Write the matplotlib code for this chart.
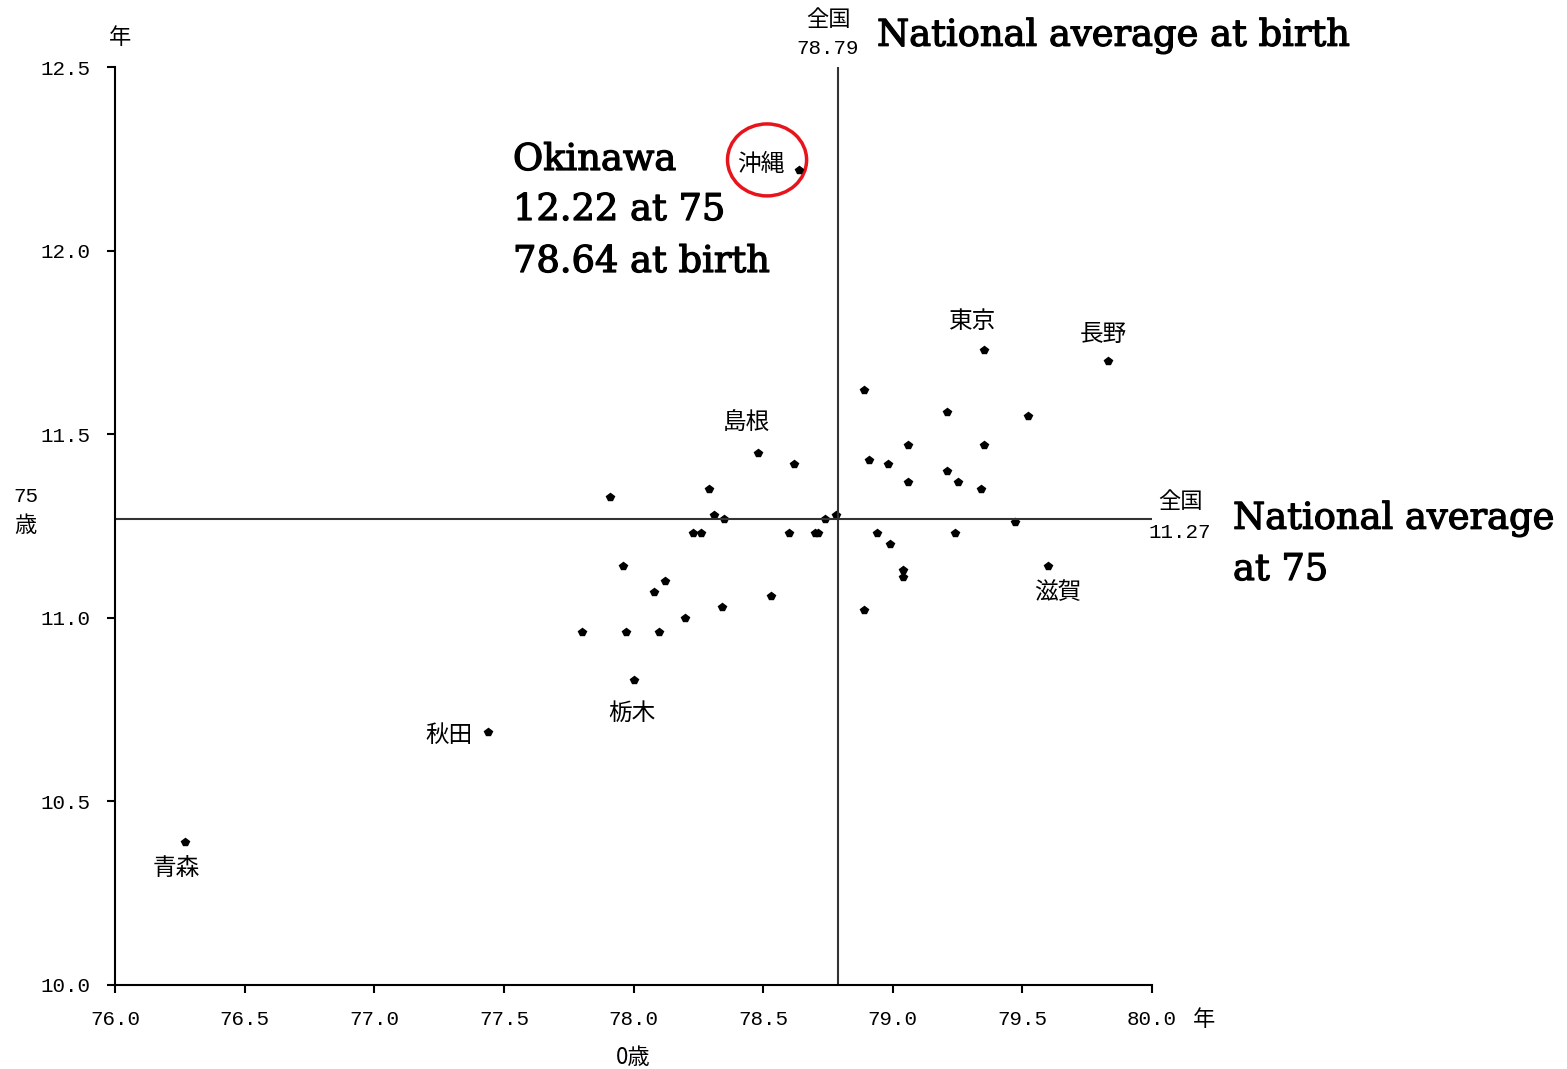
import matplotlib
matplotlib.use("Agg")
import matplotlib.pyplot as plt
import matplotlib.patheffects as pe
from matplotlib.patches import Ellipse

plt.rcParams['font.family'] = ['Noto Sans CJK JP', 'DejaVu Sans']

# 0歳平均余命 (x) と 75歳平均余命 (y), 都道府県別
birth = [76.27, 77.44, 78.00, 77.80, 77.97, 78.10, 78.20, 78.34, 78.53,
         78.08, 78.12, 77.96, 77.91, 78.29, 78.48, 78.62, 78.31, 78.35,
         78.23, 78.26, 78.60, 78.71, 78.74, 78.78, 78.64,
         79.35, 79.83, 78.89, 79.21, 79.52, 79.06, 79.35, 78.91, 78.98,
         79.21, 79.06, 79.25, 79.34, 79.47, 78.94, 79.24, 78.99, 79.04,
         79.04, 79.60, 78.89, 78.70]
at75 = [10.39, 10.69, 10.83, 10.96, 10.96, 10.96, 11.00, 11.03, 11.06,
        11.07, 11.10, 11.14, 11.33, 11.35, 11.45, 11.42, 11.28, 11.27,
        11.23, 11.23, 11.23, 11.23, 11.27, 11.28, 12.22,
        11.73, 11.70, 11.62, 11.56, 11.55, 11.47, 11.47, 11.43, 11.42,
        11.40, 11.37, 11.37, 11.35, 11.26, 11.23, 11.23, 11.20, 11.13,
        11.11, 11.14, 11.02, 11.23]

# 名前付きの県
named = ["青森", "秋田", "栃木", "島根", "沖縄", "東京", "長野", "滋賀"]
named_x = [76.27, 77.44, 78.00, 78.48, 78.64, 79.35, 79.83, 79.60]
named_y = [10.39, 10.69, 10.83, 11.45, 12.22, 11.73, 11.70, 11.14]

nat_birth = 78.79
nat_75 = 11.27

okinawa_lines = ["Okinawa", "12.22 at 75", "78.64 at birth"]

mono = 'Liberation Mono'
serif = 'DejaVu Serif'
heavy = [pe.withStroke(linewidth=0.9, foreground='black')]

fig = plt.figure(figsize=(15.67, 10.69), dpi=100)
ax = fig.add_axes([0.0734, 0.0786, 0.6618, 0.8587])

ax.plot(birth, at75, linestyle='none', marker='p', markersize=6, color='black')
ax.axhline(nat_75, color='#333333', lw=1.5)
ax.axvline(nat_birth, color='#333333', lw=1.5)

ax.set_xlim(76.0, 80.0)
ax.set_ylim(10.0, 12.5)
ax.set_xticks([76.0, 76.5, 77.0, 77.5, 78.0, 78.5, 79.0, 79.5, 80.0])
ax.set_yticks([10.0, 10.5, 11.0, 11.5, 12.0, 12.5])
ax.set_xticklabels([f"{v:.1f}" for v in ax.get_xticks()], family=mono, fontsize=15)
ax.set_yticklabels([f"{v:.1f}" for v in ax.get_yticks()], family=mono, fontsize=15)
ax.tick_params(direction='out', length=6, width=1.5, pad=12)
for s in ['top', 'right']:
    ax.spines[s].set_visible(False)
for s in ['left', 'bottom']:
    ax.spines[s].set_linewidth(1.5)

# 県名ラベル
offsets = [(-6, -19), (-28, -3), (-1, -24), (-8, 21), (-28, 4), (-8, 20), (-3, 19), (7, -19)]
for name, x, y, (dx, dy) in zip(named, named_x, named_y, offsets):
    ax.annotate(name, (x, y), xytext=(dx, dy), textcoords='offset points',
                ha='center', va='center', fontsize=17)

# 沖縄の赤丸
ax.add_patch(Ellipse((78.515, 12.247), 0.305, 0.196, fill=False, edgecolor='#e8141b', lw=2.5))

# 全国平均のラベル
fig.text(828 / 1567, 1 - 20 / 1069, "全国", ha='center', va='center', fontsize=16)
fig.text(828 / 1567, 1 - 49 / 1069, "78.79", ha='center', va='center', fontsize=15, family=mono)
fig.text(1180 / 1567, 1 - 501 / 1069, "全国", ha='center', va='center', fontsize=16)
fig.text(1180 / 1567, 1 - 532 / 1069, "11.27", ha='center', va='center', fontsize=15, family=mono)

# 軸の単位
fig.text(120 / 1567, 1 - 38 / 1069, "年", fontsize=16, ha='center', va='center')
fig.text(1204 / 1567, 1 - 1020 / 1069, "年", fontsize=16, ha='center', va='center')
fig.text(633 / 1567, 1 - 1057 / 1069, "0歳", fontsize=16, ha='center', va='center')
fig.text(26 / 1567, 1 - 496 / 1069, "75", fontsize=15, ha='center', va='center', family=mono)
fig.text(25 / 1567, 1 - 526 / 1069, "歳", fontsize=16, ha='center', va='center')

# 英語の注釈
fig.text(877 / 1567, 1 - 36 / 1069, "National average at birth", family=serif, fontsize=26.5,
         va='center', path_effects=heavy)
fig.text(1233 / 1567, 1 - 519 / 1069, "National average", family=serif, fontsize=26.5,
         va='center', path_effects=heavy)
fig.text(1233 / 1567, 1 - 570 / 1069, "at 75", family=serif, fontsize=26.5, va='center',
         path_effects=heavy)
for line, ypx in zip(okinawa_lines, [160, 210, 262]):
    fig.text(513 / 1567, 1 - ypx / 1069, line, family=serif, fontsize=26.5, va='center',
             path_effects=heavy)

fig.savefig("out.png", dpi=100)
